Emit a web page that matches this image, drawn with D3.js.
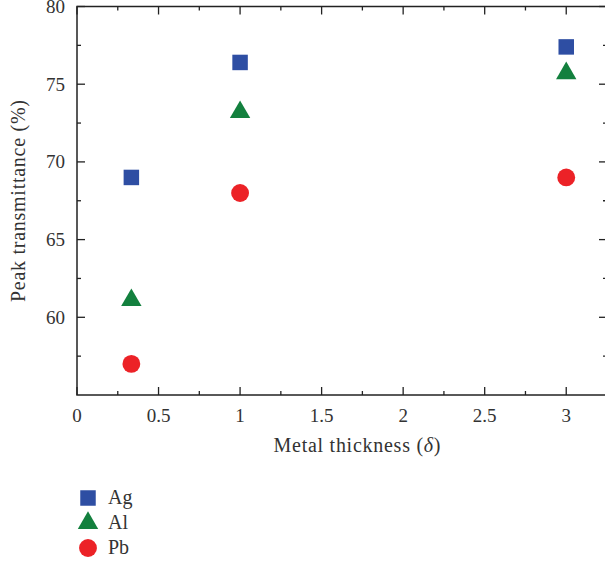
<!DOCTYPE html>
<html><head><meta charset="utf-8">
<script src="https://cdn.jsdelivr.net/npm/d3@7"></script>
<style>body{margin:0;background:#fff}text{font-family:"Liberation Serif","DejaVu Serif",serif;fill:#333}</style>
</head><body><svg id="c" width="605" height="571"></svg>
<script>
const xValues = [1/3, 1, 3];
const agValues = [69.0, 76.4, 77.4];
const alValues = [61.1, 73.2, 75.7];
const pbValues = [57.0, 68.0, 69.0];
const xTicks = [0, 0.5, 1, 1.5, 2, 2.5, 3];
const yTicks = [60, 65, 70, 75, 80];
const seriesNames = ["Ag", "Al", "Pb"];
const seriesColors = ["#2e4ea3", "#13803e", "#ec2227"];
const seriesShapes = [d3.symbolSquare, d3.symbolTriangle, d3.symbolCircle];

const svg = d3.select("#c");
const L = 77, R = 607, T = 6.5, B = 395;
const x = d3.scaleLinear().domain([0, 3.25]).range([L, R]);
const y = d3.scaleLinear().domain([55, 80]).range([B, T]);
const ax = "#222";

svg.append("rect").attr("x", L).attr("y", T).attr("width", R - L).attr("height", B - T)
  .attr("fill", "none").attr("stroke", ax).attr("stroke-width", 1.5);

const xMinor = d3.range(0.25, 3.25, 0.5);
const yMinor = d3.range(57.5, 80, 5);
const g = svg.append("g").attr("stroke", ax).attr("stroke-width", 1.3);
xTicks.forEach(v => {
  g.append("line").attr("x1", x(v)).attr("x2", x(v)).attr("y1", B).attr("y2", B - 8);
  g.append("line").attr("x1", x(v)).attr("x2", x(v)).attr("y1", T).attr("y2", T + 8);
});
xMinor.forEach(v => {
  g.append("line").attr("x1", x(v)).attr("x2", x(v)).attr("y1", B).attr("y2", B - 4);
  g.append("line").attr("x1", x(v)).attr("x2", x(v)).attr("y1", T).attr("y2", T + 4);
});
yTicks.forEach(v => {
  g.append("line").attr("x1", L).attr("x2", L + 8).attr("y1", y(v)).attr("y2", y(v));
  g.append("line").attr("x1", R).attr("x2", R - 8).attr("y1", y(v)).attr("y2", y(v));
});
yMinor.forEach(v => {
  g.append("line").attr("x1", L).attr("x2", L + 4).attr("y1", y(v)).attr("y2", y(v));
  g.append("line").attr("x1", R).attr("x2", R - 4).attr("y1", y(v)).attr("y2", y(v));
});

svg.selectAll(".xl").data(xTicks).join("text").attr("x", d => x(d)).attr("y", B + 27)
  .attr("text-anchor", "middle").attr("font-size", 19).text(d => d3.format("")(d));
svg.selectAll(".yl").data(yTicks).join("text").attr("x", L - 12).attr("y", d => y(d) + 6.5)
  .attr("text-anchor", "end").attr("font-size", 19).text(d => d);

const xl = svg.append("text").attr("x", 357).attr("y", 452).attr("text-anchor", "middle")
  .attr("font-size", 20).attr("textLength", 167).attr("lengthAdjust", "spacing");
xl.append("tspan").text("Metal thickness (");
xl.append("tspan").attr("font-style", "italic").text("δ");
xl.append("tspan").text(")");
svg.append("text").attr("transform", "translate(25,201) rotate(-90)").attr("text-anchor", "middle")
  .attr("font-size", 20).attr("textLength", 202).attr("lengthAdjust", "spacing")
  .text("Peak transmittance (%)");

const all = [agValues, alValues, pbValues];
const sizes = [240, 180, 250];
all.forEach((vals, i) => {
  svg.append("g").selectAll("path").data(vals).join("path")
    .attr("transform", (d, j) => `translate(${x(xValues[j])},${y(d)})`)
    .attr("d", d3.symbol().type(seriesShapes[i]).size(sizes[i]))
    .attr("fill", seriesColors[i]);
});

seriesNames.forEach((n, i) => {
  const cy = 498 + i * 25;
  svg.append("path").attr("transform", `translate(88,${cy})`)
    .attr("d", d3.symbol().type(seriesShapes[i]).size(sizes[i])).attr("fill", seriesColors[i]);
  svg.append("text").attr("x", 108).attr("y", cy + 6).attr("font-size", 20).text(n);
});
</script></body></html>
